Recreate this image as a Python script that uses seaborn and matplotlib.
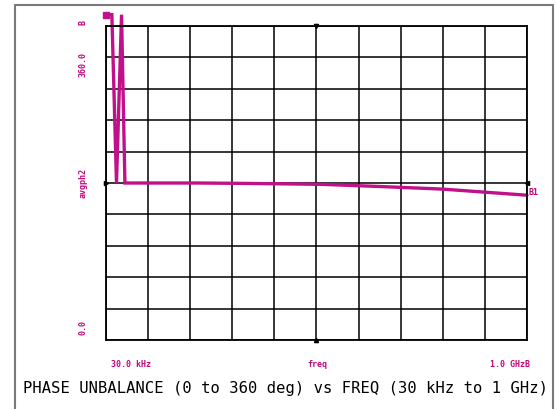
import matplotlib
matplotlib.use("Agg")
import matplotlib.pyplot as plt
from matplotlib.lines import Line2D
import seaborn as sns
import numpy as np

# frequency (MHz) and phase unbalance (deg)
freq_mhz = [0.03, 14.0, 25.0, 37.0, 45.0, 100.0, 220.0, 340.0, 510.0, 650.0, 800.0, 900.0, 1000.0]
phase_deg = [373.0, 373.0, 180.0, 373.0, 180.0, 180.0, 180.0, 179.5, 178.5, 176.0, 173.0, 169.5, 166.0]

x_min, x_max = 0.03, 1000.0
y_min, y_max = 0.0, 360.0

title = "PHASE UNBALANCE (0 to 360 deg) vs FREQ (30 kHz to 1 GHz)"
magenta = "#C0087F"
line_col = "#C0108A"

sns.set_style("white")
plt.rcParams['font.family'] = ['DejaVu Sans Mono', 'DejaVu Sans']

fig = plt.figure(figsize=(5.56, 4.09), dpi=100)
ax = fig.add_axes([0.1906, 0.1687, 0.7572, 0.7677])

sns.lineplot(x=freq_mhz, y=phase_deg, ax=ax, sort=False, estimator=None,
             color=line_col, linewidth=2.4)
for ln in ax.lines:
    ln.set_clip_on(False)
    ln.set_solid_joinstyle('miter')
# start marker block
ax.plot([freq_mhz[0]], [phase_deg[0]], marker='s', ms=5, color=line_col, clip_on=False)

ax.set_xlim(x_min, x_max)
ax.set_ylim(y_min, y_max)
ax.set_xticks(np.linspace(x_min, x_max, 11))
ax.set_yticks(np.linspace(y_min, y_max, 11))
ax.set_xticklabels([])
ax.set_yticklabels([])
ax.tick_params(length=0)
ax.grid(True, color='black', linewidth=1.1)
for s in ax.spines.values():
    s.set_color('black')
    s.set_linewidth(1.3)

# small axis centre arrows
tr = ax.transAxes
ax.plot([0.5], [1.0], marker='v', ms=3, color='black', transform=tr, clip_on=False)
ax.plot([0.5], [0.0], marker='^', ms=3, color='black', transform=tr, clip_on=False)
ax.plot([0.0], [0.5], marker='>', ms=3, color='black', transform=tr, clip_on=False)
ax.plot([1.0], [0.5], marker='<', ms=3, color='black', transform=tr, clip_on=False)

# end marker label
ax.text(1.003, (phase_deg[-1] - y_min) / (y_max - y_min) + 0.008, "B1", transform=tr,
        color=magenta, fontsize=6, fontweight='bold', ha='left', va='center')

# y axis labels
lab = dict(color=magenta, fontsize=6, fontweight='bold', rotation=90, ha='center', va='center')
fig.text(0.149, 0.944, "B", **lab)
fig.text(0.149, 0.842, "360.0", **lab)
fig.text(0.149, 0.553, "avgph2", **lab)
fig.text(0.149, 0.200, "0.0", **lab)

# x axis labels
xlab = dict(color=magenta, fontsize=6, fontweight='bold', va='center')
fig.text(0.199, 0.110, "30.0 kHz", ha='left', **xlab)
fig.text(0.570, 0.110, "freq", ha='center', **xlab)
fig.text(0.953, 0.110, "1.0 GHzB", ha='right', **xlab)

fig.text(0.5135, 0.049, title, ha='center', va='center', fontsize=11.15, color='black')

# outer frame
fx0, fx1, fy1 = 15 / 556, 553 / 556, 1 - 5 / 409
for xs, ys in [([fx0, fx0], [0, fy1]), ([fx0, fx1], [fy1, fy1]), ([fx1, fx1], [fy1, 0])]:
    fig.add_artist(Line2D(xs, ys, color='#7a7a7a', linewidth=1.5, transform=fig.transFigure))

fig.savefig("out.png", dpi=100)
